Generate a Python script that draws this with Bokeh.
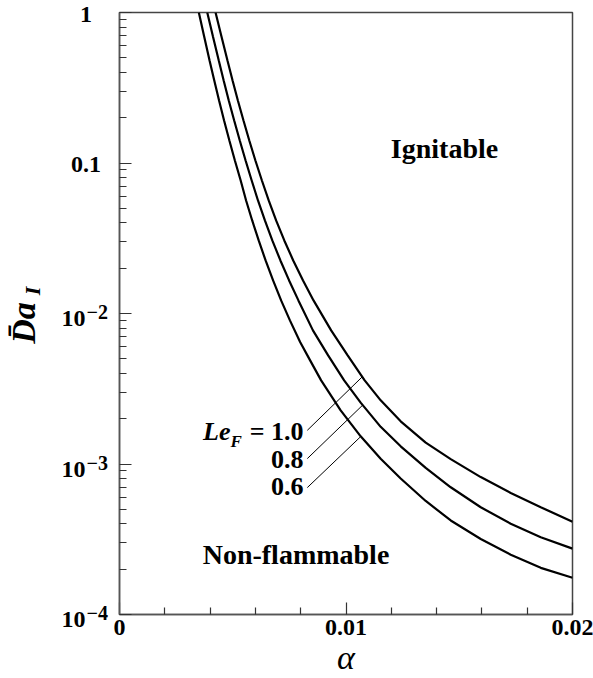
import math
from bokeh.plotting import figure
from bokeh.layouts import row
from bokeh.models import Range1d, FixedTicker, Label
from bokeh.embed import file_html
from bokeh.resources import INLINE

# ---------------- data ----------------
alpha_le10 = [0.004241, 0.004502, 0.004767, 0.004992, 0.005226, 0.005474, 0.005730,
              0.006000, 0.006287, 0.006587, 0.006914, 0.007276, 0.007670, 0.008103,
              0.008566, 0.009344, 0.010073, 0.010824, 0.011531, 0.012414, 0.013519,
              0.014624, 0.015949, 0.017274, 0.018599, 0.020]
da_le10 = [1.0, 0.6918, 0.4793, 0.3530, 0.2601, 0.1915, 0.1411,
           0.1039, 0.07653, 0.05637, 0.04152, 0.03058, 0.02252, 0.01659,
           0.01222, 0.007723, 0.005270, 0.003595, 0.002648, 0.001921, 0.001387,
           0.001078, 0.0008185, 0.0006418, 0.0005165, 0.0004132]

alpha_le08 = [0.003875, 0.004126, 0.004383, 0.004599, 0.004824, 0.005063, 0.005310,
              0.005567, 0.005836, 0.006114, 0.006419, 0.006746, 0.007104, 0.007488,
              0.007899, 0.008540, 0.009211, 0.009918, 0.010647, 0.011531, 0.012414,
              0.013519, 0.014624, 0.015949, 0.017274, 0.018599, 0.020]
da_le08 = [1.0, 0.6918, 0.4793, 0.3530, 0.2601, 0.1915, 0.1411,
           0.1039, 0.07653, 0.05637, 0.04152, 0.03058, 0.02252, 0.01659,
           0.01222, 0.007723, 0.005270, 0.003595, 0.002557, 0.001766, 0.001311,
           0.0009435, 0.0007004, 0.0005159, 0.0004007, 0.0003261, 0.0002739]

alpha_le06 = [0.003503, 0.003738, 0.003976, 0.004184, 0.004396, 0.004617, 0.004851,
              0.005094, 0.005350, 0.005589, 0.005858, 0.006145, 0.006450, 0.006781,
              0.007135, 0.007524, 0.007974, 0.008416, 0.008902, 0.009764, 0.010647,
              0.011531, 0.012414, 0.013519, 0.014624, 0.015949, 0.017274, 0.018599, 0.020]
da_le06 = [1.0, 0.6918, 0.4793, 0.3530, 0.2601, 0.1915, 0.1411,
           0.1039, 0.07653, 0.05637, 0.04152, 0.03058, 0.02252, 0.01659,
           0.01222, 0.009001, 0.006458, 0.004883, 0.003595, 0.002273, 0.001527,
           0.001084, 0.0008012, 0.0005680, 0.0004215, 0.0003172, 0.0002498, 0.0002042, 0.0001755]

le_values = ["1.0", "0.8", "0.6"]

x_ticks = [0, 0.01, 0.02]
x_tick_labels = ["0", "0.01", "0.02"]
x_minor_ticks = [0.002, 0.004, 0.006, 0.008, 0.012, 0.014, 0.016, 0.018]

y_ticks = [0.0001, 0.001, 0.01, 0.1, 1]
y_tick_plain = ["", "", "", "0.1", "1"]
y_tick_base = ["10", "10", "10", "", ""]
y_tick_exp = ["\u22124", "\u22123", "\u22122", "", ""]
y_minor_ticks = [m * 10.0 ** e for e in (-4, -3, -2, -1) for m in range(2, 10)]

# leader lines: label end -> curve
leader_x0 = [0.008292, 0.008292, 0.008292]
leader_y0 = [0.001674, 0.001086, 0.000697]
leader_x1 = [0.010722, 0.010722, 0.010647]
leader_y1 = [0.00380, 0.00245, 0.00152]

# ---------------- layout constants ----------------
FONT = "Liberation Serif"
H = 678
TOP, BOTTOM = 12, 64
FRAME_H = H - TOP - BOTTOM           # 602 px for 4 decades
PXD = FRAME_H / 4.0                   # px per decade
LEFT_W = 113                          # strip holding y tick labels and y title
MAIN_W = 593 - LEFT_W

# ---------------- main plot ----------------
p = figure(width=MAIN_W, height=H, output_backend="svg", toolbar_location=None,
           x_range=Range1d(0, 0.02), y_range=Range1d(1e-4, 1.0), y_axis_type="log",
           min_border_left=6, min_border_right=21, min_border_top=TOP,
           min_border_bottom=BOTTOM)
p.xgrid.visible = False
p.ygrid.visible = False
p.background_fill_color = "white"
p.border_fill_color = "white"
p.outline_line_color = "#444444"
p.outline_line_width = 1.5

for ax in (p.xaxis[0], p.yaxis[0]):
    ax.axis_line_color = "#555555"
    ax.axis_line_width = 1.5
    ax.major_tick_line_color = "#333333"
    ax.minor_tick_line_color = "#333333"
    ax.major_tick_line_width = 1.2
    ax.minor_tick_line_width = 1.2
    ax.major_tick_in = 12
    ax.major_tick_out = 0
    ax.minor_tick_in = 7
    ax.minor_tick_out = 0
    ax.major_label_text_font = FONT
    ax.major_label_text_font_style = "bold"
    ax.major_label_text_font_size = "24px"
    ax.major_label_text_color = "black"

p.xaxis.ticker = FixedTicker(ticks=x_ticks, minor_ticks=x_minor_ticks)
p.xaxis.major_label_overrides = {t: s for t, s in zip(x_ticks, x_tick_labels)}
p.xaxis.major_label_standoff = 5
p.xaxis.axis_label = "\u03b1"
p.xaxis.axis_label_text_font = FONT
p.xaxis.axis_label_text_font_style = "italic"
p.xaxis.axis_label_text_font_size = "34px"
p.xaxis.axis_label_text_color = "black"
p.xaxis.axis_label_standoff = 1

p.yaxis.ticker = FixedTicker(ticks=y_ticks, minor_ticks=y_minor_ticks)
p.yaxis.major_label_overrides = {t: "" for t in y_ticks}
p.yaxis.major_label_standoff = 0
p.yaxis.major_label_text_color = None

# curves
for xs, ys in ((alpha_le10, da_le10), (alpha_le08, da_le08), (alpha_le06, da_le06)):
    p.line(xs, ys, line_color="black", line_width=2.2)

# leader lines
p.segment(x0=leader_x0, y0=leader_y0, x1=leader_x1, y1=leader_y1,
          line_color="black", line_width=1)


def lab(fig, text, x, y, size, style="bold", align="center", xo=0, yo=0, angle=0):
    fig.add_layout(Label(x=x, y=y, text=text, text_font=FONT, text_font_size=size,
                         text_font_style=style, text_align=align, text_baseline="middle",
                         x_offset=xo, y_offset=yo, angle=angle, text_color="black"))


# region annotations
lab(p, "Ignitable", 0.014349, 0.1239, "28px")
lab(p, "Non-flammable", 0.007792, 2.523e-4, "28px")

# Le_F labels
lab(p, "Le", 0.004901, 0.001644, "26px", style="bold italic", align="right")
lab(p, "F", 0.004901, 0.0014215, "17px", style="bold italic", align="left")
lab(p, "= " + le_values[0], 0.008124, 0.001644, "26px", align="right")
lab(p, le_values[1], 0.008124, 0.001072, "26px", align="right")
lab(p, le_values[2], 0.008124, 0.0007087, "26px", align="right")

# ---------------- left strip: y tick labels and y title ----------------
# same log scale as the main plot, extended over the strip's full height
left = figure(width=LEFT_W, height=H, output_backend="svg", toolbar_location=None,
              x_range=Range1d(0, LEFT_W),
              y_range=Range1d(1e-4 * 10 ** (-BOTTOM / PXD), 1.0 * 10 ** (TOP / PXD)),
              y_axis_type="log", x_axis_location=None, y_axis_location=None,
              min_border=0, min_border_left=0, min_border_right=0,
              min_border_top=0, min_border_bottom=0)
if "frame_align" in left.properties():
    left.frame_align = False
if "frame_align" in p.properties():
    p.frame_align = False
left.grid.visible = False
left.outline_line_color = None
left.background_fill_color = "white"
left.border_fill_color = "white"

for t, plain, base, ex in zip(y_ticks, y_tick_plain, y_tick_base, y_tick_exp):
    if plain:
        lab(left, plain, 85.5, t, "24px", align="center", yo=-1.5)
    else:
        lab(left, base, 85, t, "24px", align="right", yo=-5)
        lab(left, ex, 86, t, "20px", align="left", yo=1.5)

lab(left, "D\u0304a", 23, 0.008648, "34px", style="bold italic", angle=math.pi / 2)
lab(left, "I", 32, 0.014105, "22px", style="bold italic", angle=math.pi / 2)

layout = row(left, p)
open("out.html", "w").write(file_html(layout, INLINE))
